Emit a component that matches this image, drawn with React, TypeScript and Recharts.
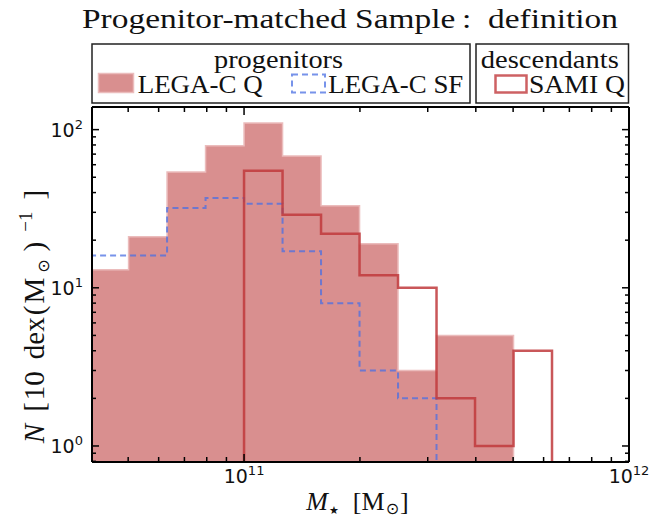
import React from 'react';
import { ComposedChart, Area, Line, XAxis, YAxis } from 'recharts';

// ---- data (bin edges in log10(M*/Msun), counts per 0.1 dex bin) ----
const binEdgesLogM = [10.6, 10.7, 10.8, 10.9, 11.0, 11.1, 11.2, 11.3, 11.4, 11.5, 11.6, 11.7, 11.8];
const legacQCounts = [13, 21, 54, 79, 110, 68, 33, 19, 3, 5, 5, 0];
const legacSFCounts = [16, 16, 32, 37, 34, 17, 8, 3, 2, 0, 0, 0];
const samiQCounts = [0, 0, 0, 0, 55, 29, 22, 12, 10, 2, 1, 4];

const xMajorTicks = [1e11, 1e12];
const xMinorTicks = [5e10, 6e10, 7e10, 8e10, 9e10, 2e11, 3e11, 4e11, 5e11, 6e11, 7e11, 8e11, 9e11];
const yMajorTicks = [1, 10, 100];
const yMinorTicks = [0.8, 0.9, 2, 3, 4, 5, 6, 7, 8, 9, 20, 30, 40, 50, 60, 70, 80, 90];

const X_DOMAIN: [number, number] = [Math.pow(10, 10.605), 1e12];
const Y_DOMAIN: [number, number] = [0.792, 139];
const FLOOR = 0.3; // plotting stand-in for empty bins on log axis (clipped)

const tableData = binEdgesLogM.map((e, i) => {
  const val = (arr: number[]) => {
    const v = i < arr.length ? arr[i] : 0;
    return v > 0 ? v : FLOOR;
  };
  return { m: Math.pow(10, e), q: val(legacQCounts), sf: val(legacSFCounts), sami: val(samiQCounts) };
});

const xTicks = [...xMinorTicks, ...xMajorTicks].sort((a, b) => a - b);
const yTicks = [...yMinorTicks, ...yMajorTicks].sort((a, b) => a - b);

const isMajor = (v: number) => Math.abs(Math.log10(v) - Math.round(Math.log10(v))) < 1e-6;

const W = 667;
const H = 520;
const M = { top: 106, left: 91, right: 37, bottom: 57 };

const FILL_Q = '#d98f8f';
const EDGE_Q = '#ebbcbc';
const SF_COLOR = '#4a6fe3';
const SAMI_COLOR = '#c0393c';
const TICK_FONT = "'DejaVu Sans', sans-serif";
const SERIF = "'Liberation Serif', 'DejaVu Serif', serif";
const TEXT_COLOR = '#111';

const TL_MAJOR = 7;
const TL_MINOR = 4;
const TICK_FS = 19;
const SUP_FS = 13;

function BottomTick(props: any) {
  const { x, y, payload } = props;
  const v = payload.value;
  const major = isMajor(v);
  const y0 = y - 1;
  return (
    <g>
      <line x1={x} x2={x} y1={y0} y2={y0 - (major ? TL_MAJOR : TL_MINOR)} stroke="#000" strokeWidth={1.5} />
      {major && (
        <text x={x} y={y0 + 22} textAnchor="middle" fontFamily={TICK_FONT} fontSize={TICK_FS} fill={TEXT_COLOR}>
          10
          <tspan dy={-8} fontSize={SUP_FS}>{Math.round(Math.log10(v))}</tspan>
        </text>
      )}
    </g>
  );
}

function TopTick(props: any) {
  const { x, y, payload } = props;
  const major = isMajor(payload.value);
  const y0 = y + 1;
  return <line x1={x} x2={x} y1={y0} y2={y0 + (major ? TL_MAJOR : TL_MINOR)} stroke="#000" strokeWidth={1.5} />;
}

function LeftTick(props: any) {
  const { x, y, payload } = props;
  const v = payload.value;
  const major = isMajor(v);
  return (
    <g>
      <line x1={x} x2={x + (major ? TL_MAJOR : TL_MINOR)} y1={y} y2={y} stroke="#000" strokeWidth={1.5} />
      {major && (
        <text x={x - 9} y={y + 7} textAnchor="end" fontFamily={TICK_FONT} fontSize={TICK_FS} fill={TEXT_COLOR}>
          10
          <tspan dy={-8} fontSize={SUP_FS}>{Math.round(Math.log10(v))}</tspan>
        </text>
      )}
    </g>
  );
}

function RightTick(props: any) {
  const { x, y, payload } = props;
  const major = isMajor(payload.value);
  return <line x1={x} x2={x - (major ? TL_MAJOR : TL_MINOR)} y1={y} y2={y} stroke="#000" strokeWidth={1.5} />;
}

const axisLine = { stroke: '#000', strokeWidth: 2 };

function Overlay() {
  const legendText = { fontFamily: SERIF, fontSize: 25, fill: TEXT_COLOR };
  return (
    <svg width={W} height={H} style={{ position: 'absolute', left: 0, top: 0, pointerEvents: 'none' }}>
      {/* title */}
      <text x={350} y={28} textAnchor="middle" fontFamily={SERIF} fontSize={27} fill={TEXT_COLOR}
        textLength={536} lengthAdjust="spacingAndGlyphs">
        Progenitor-matched Sample{'\u2009'}:{'\u2002'}definition
      </text>

      {/* legend box 1 */}
      <rect x={92} y={44} width={378} height={59} fill="#fff" stroke="#222" strokeWidth={1.5} />
      <text x={278.5} y={67.5} textAnchor="middle" {...legendText} textLength={129} lengthAdjust="spacingAndGlyphs">progenitors</text>
      <rect x={98.5} y={73.5} width={35} height={19} fill={FILL_Q} stroke={EDGE_Q} strokeWidth={1.5} />
      <text x={137.7} y={93} {...legendText} textLength={125} lengthAdjust="spacingAndGlyphs">LEGA-C Q</text>
      <rect x={292} y={74.5} width={33} height={18} fill="none" stroke={SF_COLOR} strokeOpacity={0.75} strokeWidth={2} strokeDasharray="6 4" />
      <text x={328.3} y={93} {...legendText} textLength={135} lengthAdjust="spacingAndGlyphs">LEGA-C SF</text>

      {/* legend box 2 */}
      <rect x={476} y={44} width={152.5} height={59} fill="#fff" stroke="#222" strokeWidth={1.5} />
      <text x={549.8} y={67.5} textAnchor="middle" {...legendText} textLength={138} lengthAdjust="spacingAndGlyphs">descendants</text>
      <rect x={495.5} y={75.5} width={31} height={17} fill="none" stroke={SAMI_COLOR} strokeOpacity={0.8} strokeWidth={2.5} />
      <text x={529} y={93} {...legendText} textLength={96} lengthAdjust="spacingAndGlyphs">SAMI Q</text>

      {/* x label */}
      <text x={357.5} y={510} textAnchor="middle" fontFamily={SERIF} fontSize={26} fill={TEXT_COLOR}>
        <tspan fontStyle="italic">M</tspan>
        <tspan fontFamily={TICK_FONT} fontSize={11} dx={1} dy={4}>{'\u2605'}</tspan>
        <tspan dx={14} dy={-4}>[M</tspan>
        <tspan fontFamily={TICK_FONT} fontSize={16} dx={1} dy={4}>{'\u2299'}</tspan>
        <tspan dx={1} dy={-4}>]</tspan>
      </text>

      {/* y label */}
      <text
        x={0}
        y={0}
        transform="translate(44,316.5) rotate(-90)"
        textAnchor="middle"
        fontFamily={SERIF}
        fontSize={29}
        fill={TEXT_COLOR}
      >
        <tspan fontStyle="italic">N</tspan>
        <tspan dx={12}>[</tspan>
        <tspan dx={2}>10</tspan>
        <tspan dx={12}>dex</tspan>
        <tspan dx={2}>(</tspan>
        <tspan dx={2}>M</tspan>
        <tspan fontFamily={TICK_FONT} fontSize={16} dx={5} dy={5}>{'\u2299'}</tspan>
        <tspan dx={8} dy={-5}>)</tspan>
        <tspan fontSize={19} dx={10} dy={-12}>{'\u2212'}1</tspan>
        <tspan dx={12} dy={12}>]</tspan>
      </text>
    </svg>
  );
}

export default function App() {
  return (
    <div style={{ position: 'absolute', left: 0, top: 0, width: W, height: H, background: '#fff' }}>
      <ComposedChart width={W} height={H} data={tableData} margin={M}>
        <XAxis xAxisId="b" dataKey="m" type="number" scale="log" domain={X_DOMAIN} allowDataOverflow
          ticks={xTicks} interval={0} orientation="bottom" height={1} tickSize={0} tickMargin={0}
          tickLine={false} axisLine={axisLine} tick={BottomTick} />
        <XAxis xAxisId="t" dataKey="m" type="number" scale="log" domain={X_DOMAIN} allowDataOverflow
          ticks={xTicks} interval={0} orientation="top" height={1} tickSize={0} tickMargin={0}
          tickLine={false} axisLine={axisLine} tick={TopTick} />
        <YAxis yAxisId="l" type="number" scale="log" domain={Y_DOMAIN} allowDataOverflow
          ticks={yTicks} interval={0} orientation="left" width={1} tickSize={0} tickMargin={0}
          tickLine={false} axisLine={axisLine} tick={LeftTick} />
        <YAxis yAxisId="r" type="number" scale="log" domain={Y_DOMAIN} allowDataOverflow
          ticks={yTicks} interval={0} orientation="right" width={1} tickSize={0} tickMargin={0}
          tickLine={false} axisLine={axisLine} tick={RightTick} />
        <Area xAxisId="b" yAxisId="l" dataKey="q" type="stepAfter" fill={FILL_Q} fillOpacity={1}
          stroke={EDGE_Q} strokeWidth={1.5} baseValue={Y_DOMAIN[0]} dot={false} activeDot={false}
          isAnimationActive={false} />
        <Line xAxisId="b" yAxisId="l" dataKey="sf" type="stepAfter" stroke={SF_COLOR} strokeOpacity={0.75}
          strokeWidth={2} strokeDasharray="6 4" dot={false} activeDot={false} isAnimationActive={false} />
        <Line xAxisId="b" yAxisId="l" dataKey="sami" type="stepAfter" stroke={SAMI_COLOR} strokeOpacity={0.85}
          strokeWidth={2.5} dot={false} activeDot={false} isAnimationActive={false} />
      </ComposedChart>
      <Overlay />
    </div>
  );
}
